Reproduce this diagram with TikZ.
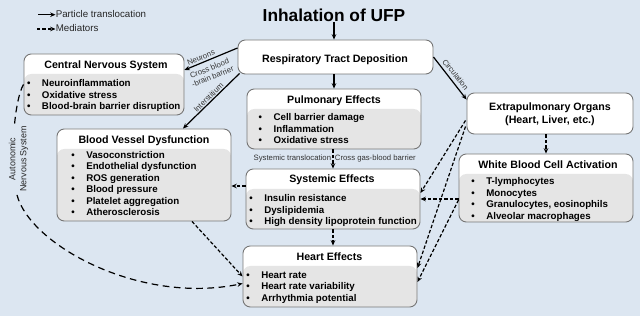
\documentclass[tikz,border=0pt]{standalone}
\usepackage{fontspec}
\setmainfont{Liberation Sans}
\usetikzlibrary{arrows.meta,calc,fit}
\definecolor{canvas}{RGB}{220,230,241}
\definecolor{boxbody}{RGB}{229,229,229}
\definecolor{boxline}{RGB}{120,120,120}
% one bullet row per entry, first baseline at #3
\newcommand\bulletrows[4]{%
  \foreach \txt [count=\k from 0] in {#4}
    \node[item] (item-#1-\k) at ({#2-14.9},{-#3-11.5*\k}) {\makebox[11.2pt][l]{\textbullet}\txt};}

\begin{document}
\begin{tikzpicture}[x=0.75pt,y=0.75pt,
  panel/.style={draw=boxline,line width=0.7pt,fill=white,rounded corners=5.5pt,inner sep=0pt,
    path picture={\fill[boxbody] ([yshift=-15pt]path picture bounding box.north west) rectangle (path picture bounding box.south east);}},
  plainpanel/.style={draw=boxline,line width=0.7pt,fill=white,rounded corners=5.5pt,inner sep=0pt},
  head/.style={font=\fontsize{8}{10.1}\selectfont\bfseries,inner sep=0pt,anchor=base},
  item/.style={font=\fontsize{7.3}{8.8}\selectfont\bfseries,inner sep=0pt,anchor=base west},
  lbl/.style={font=\fontsize{5.8}{6.6}\selectfont,inner sep=1pt,text=black!80},
  legend/.style={font=\fontsize{7.3}{8.8}\selectfont,inner sep=0pt,anchor=base west,text=black!85},
  part/.style={-{Stealth[length=4pt,width=3.4pt]},line width=0.9pt},
  medi/.style={part,dash pattern=on 2.6pt off 1.5pt},
  ans/.style={part,dash pattern=on 5pt off 3.4pt}]
\path[fill=canvas] (0,0) rectangle (640,-316);
\useasboundingbox (0,0) rectangle (640,-316);
% legend
\coordinate (lgd-a) at (38,-14.7);
\node[legend] (lgd-part) at (55.5,-17.5) {Particle translocation};
\draw[part] (lgd-a) -- (lgd-a -| lgd-part.west);
\coordinate (lgd-b) at (37,-29);
\node[legend] (lgd-medi) at (55.5,-31.7) {Mediators};
\draw[medi] (lgd-b) -- (lgd-b -| lgd-medi.west);
% boxes
\node[font=\fontsize{13}{15}\selectfont\bfseries,inner sep=0pt,anchor=base] (head-title) at (334,-22) {Inhalation of UFP};
\node[plainpanel,fit={(238,-40) (433,-74)}] (box-rtd) {};
\node[head] (head-rtd) at (335,-62.5) {Respiratory Tract Deposition};
\node[panel,fit={(24,-54) (184,-115)}] (box-cns) {};
\node[head] (head-cns) at (106,-69) {Central Nervous System};
\bulletrows{cns}{41.7}{86.7}{Neuroinflammation,Oxidative stress,Blood-brain barrier disruption}
\node[panel,fit={(247,-89) (421,-149)}] (box-pulm) {};
\node[head] (head-pulm) at (334,-104) {Pulmonary Effects};
\bulletrows{pulm}{273.3}{120.7}{Cell barrier damage,Inflammation,Oxidative stress}
\node[panel,fit={(57,-129) (231,-221)}] (box-bvd) {};
\node[head] (head-bvd) at (144,-144) {Blood Vessel Dysfunction};
\bulletrows{bvd}{86}{158.3}{Vasoconstriction,Endothelial dysfunction,ROS generation,Blood pressure,Platelet aggregation,Atherosclerosis}
\node[panel,fit={(246,-169) (420,-229)}] (box-sys) {};
\node[head] (head-sys) at (332,-183) {Systemic Effects};
\bulletrows{sys}{264}{201.7}{Insulin resistance,Dyslipidemia,High density lipoprotein function}
\node[panel,fit={(243,-246) (417,-307)}] (box-heart) {};
\node[head] (head-heart) at (329.5,-260.5) {Heart Effects};
\bulletrows{heart}{261}{278.3}{Heart rate,Heart rate variability,Arrhythmia potential}
\node[plainpanel,fit={(467,-93) (633,-134)}] (box-extra) {};
\node[head,anchor=center,align=center] (head-extra) at (550,-114.5) {Extrapulmonary Organs\\(Heart, Liver, etc.)};
\node[panel,fit={(459,-154) (633,-222)}] (box-wbc) {};
\node[head] (head-wbc) at (548,-169) {White Blood Cell Activation};
\bulletrows{wbc}{486}{185}{T-lymphocytes,Monocytes,{Granulocytes, eosinophils},Alveolar macrophages}
% particle translocation
\draw[part] (head-title.south) -- (head-title.south |- box-rtd.north);
\draw[part] (box-pulm.north |- box-rtd.south) -- (box-pulm.north);
\draw[part] ($(box-rtd.west)+(0,9)$) -- ($(box-cns.east)+(0,14.5)$);
\node[lbl,rotate=22.5] (lbl-neurons) at (201,-57.5) {Neurons};
\node[lbl,rotate=22,align=center] (lbl-bbb) at (211,-72.5) {Cross blood\\-brain barrier};
\draw[part] ($(box-rtd.south west)+(2,1)$) -- ($(box-bvd.north)+(39,0)$);
\node[lbl,rotate=44] (lbl-inter) at (208.5,-97.5) {Interstitium};
\draw[part] (box-rtd.east) -- ($(box-extra.north west)+(0,-7)$);
\node[lbl,rotate=-51] (lbl-circ) at (455.5,-74.5) {Circulation};
% mediators
\draw[medi] (box-sys.north |- box-pulm.south) -- node[lbl,left,pos=0.5] (lbl-systr) {Systemic translocation}
  node[lbl,right,pos=0.5] (lbl-gas) {Cross gas-blood barrier} (box-sys.north);
\draw[medi] ($(box-sys.west)+(0,13)$) coordinate (sys-out) -- (sys-out -| box-bvd.east);
\draw[medi] (box-sys.south) -- (box-sys.south |- box-heart.north);
\draw[medi] ($(box-bvd.south)+(48,0)$) -- (box-heart.west);
\draw[medi] (box-wbc.north |- box-extra.south) -- (box-wbc.north);
\draw[medi] ($(box-extra.south west)+(-1,14)$) -- ($(box-sys.east)+(0,6)$);
\draw[medi] ($(box-extra.south west)+(-1,8)$) -- ($(box-heart.east)+(0,8.5)$);
\draw[medi] (box-sys.east -| box-wbc.west) -- (box-sys.east);
\draw[medi] ($(box-wbc.west)+(0,-12)$) -- ($(box-heart.east)+(0,-5.5)$);
% autonomic nervous system
\draw[ans] (box-cns.west) .. controls (14,-100) and (9,-165) .. (17,-195)
  .. controls (30,-245) and (140,-305) .. ($(box-heart.west)+(0,-7)$);
\node[fill=canvas,rotate=90,align=center,inner sep=1pt,font=\fontsize{6.7}{8.3}\selectfont,text=black!85] (lbl-ans) at (18.5,-159) {Autonomic\\Nervous System};
\end{tikzpicture}
\end{document}
